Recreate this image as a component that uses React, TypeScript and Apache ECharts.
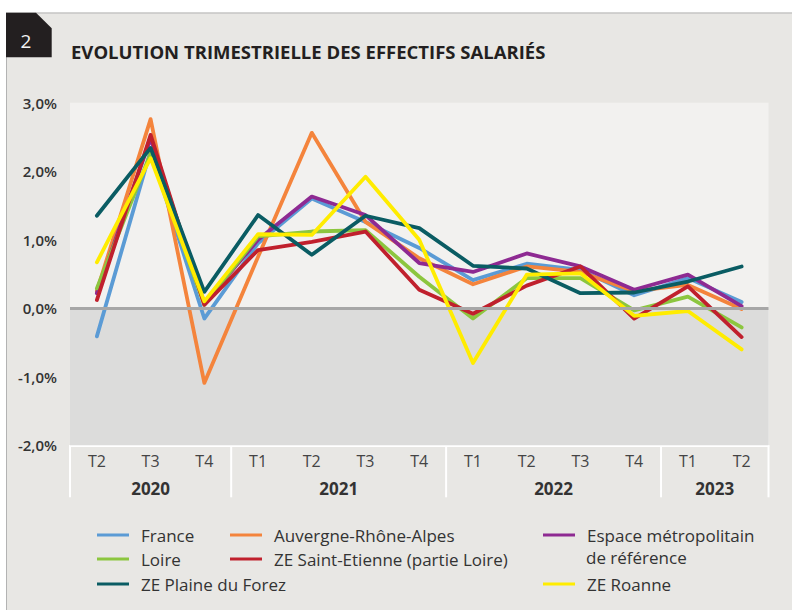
import React, { useEffect, useRef } from 'react';
import * as echarts from 'echarts';

// ---- Data ----
const quarters = ['T2', 'T3', 'T4', 'T1', 'T2', 'T3', 'T4', 'T1', 'T2', 'T3', 'T4', 'T1', 'T2'];
const years = ['2020', '2021', '2022', '2023'];
const quartersPerYear = [3, 4, 4, 2];

const seriesNames = [
  'France',
  'Auvergne-Rhône-Alpes',
  'Espace métropolitain de référence',
  'Loire',
  'ZE Saint-Etienne (partie Loire)',
  'ZE Plaine du Forez',
  'ZE Roanne',
];

const france = [-0.41, 2.3, -0.15, 0.95, 1.6, 1.26, 0.88, 0.41, 0.65, 0.56, 0.19, 0.44, 0.09];
const auvergneRhoneAlpes = [0.25, 2.76, -1.09, 0.75, 2.56, 1.26, 0.73, 0.35, 0.61, 0.53, 0.25, 0.34, -0.01];
const espaceMetropolitain = [0.22, 2.48, 0.07, 1.0, 1.63, 1.36, 0.66, 0.53, 0.8, 0.61, 0.27, 0.49, 0.03];
const loire = [0.29, 2.26, 0.05, 1.05, 1.12, 1.14, 0.46, -0.15, 0.44, 0.44, -0.03, 0.17, -0.28];
const zeSaintEtienne = [0.12, 2.53, 0.05, 0.85, 0.97, 1.12, 0.27, -0.08, 0.33, 0.61, -0.15, 0.32, -0.42];
const zePlaineForez = [1.35, 2.34, 0.24, 1.36, 0.78, 1.35, 1.17, 0.62, 0.58, 0.22, 0.23, 0.39, 0.61];
const zeRoanne = [0.67, 2.19, 0.1, 1.08, 1.07, 1.92, 1.0, -0.8, 0.49, 0.51, -0.11, -0.04, -0.6];

const seriesValues = [france, auvergneRhoneAlpes, espaceMetropolitain, loire, zeSaintEtienne, zePlaineForez, zeRoanne];

// ---- Styles ----
const FONT = '"Open Sans", "Noto Sans", sans-serif';
const colors = ['#5b9bd5', '#f4843c', '#8e2a92', '#8cc63f', '#c0202d', '#0a5c63', '#ffec00'];

// category keys (quarter + year) so that duplicate quarter names stay distinct
const categoryKeys: string[] = [];
{
  let k = 0;
  quartersPerYear.forEach((n, yi) => {
    for (let j = 0; j < n; j++) {
      categoryKeys.push(quarters[k] + ' ' + years[yi]);
      k++;
    }
  });
}

const SPLIT_AT = ' de référence';

const legendPlacement = [
  { left: 97, top: 525 },
  { left: 230, top: 525 },
  { left: 543, top: 525 },
  { left: 97, top: 549 },
  { left: 230, top: 549 },
  { left: 97, top: 574 },
  { left: 543, top: 574 },
];

function buildOption() {
  const legends = seriesNames.map((name, i) => {
    const p = legendPlacement[i];
    return {
      data: [name],
      left: p.left,
      top: p.top,
      orient: 'horizontal',
      padding: 0,
      itemWidth: 32,
      itemHeight: 3,
      icon: 'rect',
      selectedMode: false,
      formatter: (n: string) => (n.indexOf(SPLIT_AT) >= 0 ? n.slice(0, n.indexOf(SPLIT_AT)) : n),
      textStyle: {
        fontFamily: FONT,
        fontSize: 17,
        color: '#333333',
        lineHeight: 20,
        padding: [0, 0, 0, 7],
      },
    };
  });

  const dataSeries = seriesNames.map((name, i) => ({
    name,
    type: 'line',
    data: seriesValues[i],
    symbol: 'none',
    color: colors[i],
    lineStyle: { color: colors[i], width: 3.8, cap: 'round', join: 'round' },
    emphasis: { disabled: true },
    silent: true,
    z: 3,
  }));

  return {
    animation: false,
    backgroundColor: '#e8e7e4',
    title: {
      text: 'EVOLUTION TRIMESTRIELLE DES EFFECTIFS SALARIÉS',
      left: 71,
      top: 40,
      padding: 0,
      textStyle: {
        fontFamily: FONT,
        fontSize: 18.5,
        fontWeight: 'bold',
        color: '#231f20',
        lineHeight: 22,
      },
    },
    grid: {
      left: 70,
      right: 23.5,
      top: 102.7,
      bottom: 164.7,
      show: true,
      backgroundColor: '#f2f1ef',
      borderWidth: 0,
    },
    xAxis: {
      type: 'category',
      data: categoryKeys,
      boundaryGap: true,
      axisLine: { onZero: false, lineStyle: { color: '#ffffff', width: 2 } },
      axisTick: { show: false },
      splitLine: { show: false },
      axisLabel: {
        interval: 0,
        formatter: (v: string) => v.split(' ')[0],
        fontFamily: FONT,
        fontSize: 16,
        color: '#444444',
        margin: 7,
        lineHeight: 18,
      },
    },
    yAxis: {
      type: 'value',
      min: -2,
      max: 3,
      interval: 1,
      axisLine: { show: false },
      axisTick: { show: false },
      splitLine: { show: false },
      axisLabel: {
        formatter: (v: number) => v.toFixed(1).replace('.', ',') + '%',
        fontFamily: FONT,
        fontSize: 15,
        fontWeight: 600,
        color: '#333333',
        margin: 13,
      },
    },
    legend: legends,
    series: [
      {
        name: '__bg',
        type: 'line',
        data: categoryKeys.map(() => null),
        symbol: 'none',
        silent: true,
        z: 1,
        markArea: {
          silent: true,
          itemStyle: { color: '#dcdcdb' },
          data: [[{ yAxis: -2 }, { yAxis: 0 }]],
        },
        markLine: {
          silent: true,
          symbol: ['none', 'none'],
          label: { show: false },
          lineStyle: { color: '#a7a7a7', width: 3, type: 'solid' },
          data: [{ yAxis: 0 }],
        },
      },
      ...dataSeries,
    ],
  };
}

export default function App() {
  const ref = useRef<HTMLDivElement>(null);
  useEffect(() => {
    if (!ref.current) return;
    const chart = echarts.init(ref.current, null, { renderer: 'svg' });
    chart.setOption(buildOption() as any);

    const px = (key: string) => chart.convertToPixel({ xAxisIndex: 0 }, key) as number;
    const bw = px(categoryKeys[1]) - px(categoryKeys[0]);
    const axisY = chart.convertToPixel({ yAxisIndex: 0 }, -2) as number;

    const espaceName = seriesNames[2];
    const secondLine = espaceName.slice(espaceName.indexOf(SPLIT_AT) + 1);

    const elements: any[] = [
      // white margins outside the panel
      { type: 'rect', shape: { x: 0, y: 0, width: 792, height: 12.5 }, style: { fill: '#ffffff' }, silent: true },
      { type: 'rect', shape: { x: 0, y: 0, width: 6, height: 610 }, style: { fill: '#ffffff' }, silent: true },
      { type: 'line', shape: { x1: 6, y1: 13, x2: 792, y2: 13 }, style: { stroke: '#b3b3b3', lineWidth: 1 }, silent: true },
      { type: 'line', shape: { x1: 6.5, y1: 13, x2: 6.5, y2: 610 }, style: { stroke: '#b3b3b3', lineWidth: 1 }, silent: true },
      // number box
      {
        type: 'polygon',
        shape: { points: [[6, 12.7], [36, 12.7], [51.7, 28.3], [51.7, 57.3], [6, 57.3]] },
        style: { fill: '#231f20' },
        silent: true,
      },
      {
        type: 'text',
        x: 26,
        y: 41,
        style: { text: '2', fill: '#f2f2f2', fontFamily: FONT, fontSize: 19, align: 'center', verticalAlign: 'middle' },
        silent: true,
      },
      // second line of the wrapped legend label
      {
        type: 'text',
        x: 586,
        y: 557,
        style: { text: secondLine, fill: '#333333', fontFamily: FONT, fontSize: 17, align: 'left', verticalAlign: 'middle' },
        silent: true,
      },
    ];

    let start = 0;
    const sepXs: number[] = [px(categoryKeys[0]) - bw / 2];
    quartersPerYear.forEach((n, yi) => {
      const cx = (px(categoryKeys[start]) + px(categoryKeys[start + n - 1])) / 2;
      elements.push({
        type: 'text',
        x: cx,
        y: axisY + 43,
        style: {
          text: years[yi],
          fill: '#333333',
          fontFamily: FONT,
          fontSize: 17,
          fontWeight: 'bold',
          align: 'center',
          verticalAlign: 'middle',
        },
        silent: true,
      });
      start += n;
      sepXs.push(px(categoryKeys[start - 1]) + bw / 2);
    });
    sepXs.forEach((x) => {
      elements.push({
        type: 'line',
        shape: { x1: x, y1: axisY, x2: x, y2: axisY + 52 },
        style: { stroke: '#ffffff', lineWidth: 2 },
        silent: true,
      });
    });

    chart.setOption({ graphic: { elements } });
    return () => chart.dispose();
  }, []);
  return <div ref={ref} style={{ position: 'fixed', left: 0, top: 0, width: 792, height: 610 }} />;
}
